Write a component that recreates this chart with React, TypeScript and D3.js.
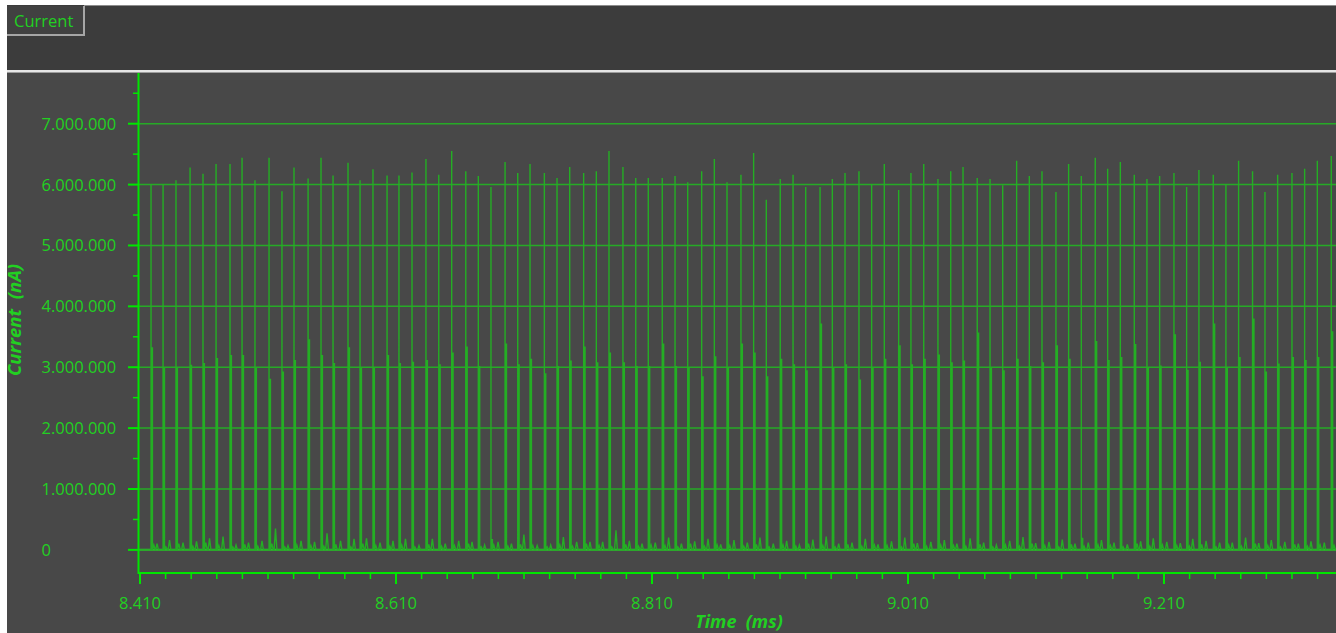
import React from 'react';
import * as d3 from 'd3';

// Time of each pulse (ms)
const spikeTimesMs = [
  8.4186, 8.4280, 8.4381, 8.4491, 8.4592, 8.4694, 8.4803, 8.4897, 8.4998, 8.5108,
  8.5209, 8.5303, 8.5413, 8.5514, 8.5608, 8.5725, 8.5819, 8.5920, 8.6030, 8.6123,
  8.6225, 8.6334, 8.6434, 8.6535, 8.6645, 8.6743, 8.6842, 8.6952, 8.7051, 8.7147,
  8.7259, 8.7358, 8.7457, 8.7566, 8.7665, 8.7764, 8.7873, 8.7973, 8.8071, 8.8180,
  8.8280, 8.8379, 8.8488, 8.8587, 8.8686, 8.8795, 8.8894, 8.8993, 8.9102, 8.9202,
  8.9301, 8.9413, 8.9509, 8.9608, 8.9717, 8.9816, 8.9915, 9.0027, 9.0123, 9.0223,
  9.0334, 9.0434, 9.0530, 9.0641, 9.0741, 9.0840, 9.0949, 9.1048, 9.1147, 9.1256,
  9.1355, 9.1454, 9.1563, 9.1660, 9.1759, 9.1868, 9.1967, 9.2066, 9.2178, 9.2277,
  9.2373, 9.2485, 9.2584, 9.2683, 9.2792, 9.2889, 9.2988, 9.3100, 9.3199, 9.3298,
  9.3407,
];

// Tall peak of each pulse (millions of nA)
const tallPeakMnA = [
  6.00, 6.00, 6.07, 6.28, 6.18, 6.34, 6.34, 6.44, 6.07, 6.44,
  5.89, 6.28, 6.10, 6.44, 6.15, 6.36, 6.07, 6.25, 6.15, 6.15,
  6.20, 6.42, 6.16, 6.55, 6.22, 6.14, 5.96, 6.37, 6.19, 6.34,
  6.19, 6.11, 6.29, 6.19, 6.22, 6.55, 6.29, 6.11, 6.11, 6.11,
  6.14, 6.04, 6.22, 6.42, 6.04, 6.16, 6.52, 5.75, 6.09, 6.16,
  5.96, 5.96, 6.09, 6.19, 6.22, 6.01, 6.34, 5.91, 6.19, 6.34,
  6.09, 6.22, 6.29, 6.11, 6.09, 5.99, 6.39, 6.14, 6.22, 5.88,
  6.34, 6.14, 6.44, 6.26, 6.37, 6.16, 6.09, 6.14, 6.19, 5.96,
  6.24, 6.16, 6.00, 6.39, 6.22, 5.88, 6.16, 6.19, 6.26, 6.39,
  6.47,
];

// Secondary (shorter) peak of each pulse (millions of nA)
const shortPeakMnA = [
  3.33, 3.00, 3.00, 3.04, 3.07, 3.15, 3.20, 3.20, 3.00, 2.81,
  2.93, 3.12, 3.46, 3.20, 3.07, 3.33, 3.00, 3.00, 3.20, 3.07,
  3.09, 3.12, 3.05, 3.24, 3.34, 3.02, 0.18, 3.39, 3.05, 3.14,
  2.90, 3.02, 3.11, 3.34, 3.08, 3.24, 3.08, 3.02, 3.02, 3.39,
  3.02, 3.00, 2.85, 3.18, 3.00, 3.39, 3.24, 2.85, 3.14, 3.05,
  2.95, 3.72, 3.00, 3.05, 2.80, 3.00, 3.14, 3.36, 3.05, 3.14,
  3.21, 3.08, 3.11, 3.57, 3.00, 2.95, 3.14, 3.02, 3.08, 3.36,
  3.14, 0.20, 3.43, 3.12, 3.17, 3.38, 3.00, 3.03, 3.54, 2.96,
  3.09, 3.72, 3.00, 3.17, 3.80, 2.93, 3.06, 3.17, 3.12, 3.17,
  3.59,
];

// Small baseline blip between pulses (millions of nA)
const midNoiseMnA = [
  0.10, 0.16, 0.12, 0.14, 0.19, 0.22, 0.08, 0.12, 0.15, 0.35,
  0.07, 0.15, 0.13, 0.27, 0.15, 0.18, 0.19, 0.12, 0.15, 0.18,
  0.07, 0.18, 0.10, 0.15, 0.13, 0.08, 0.13, 0.10, 0.25, 0.07,
  0.08, 0.21, 0.13, 0.13, 0.13, 0.32, 0.15, 0.10, 0.12, 0.20,
  0.10, 0.14, 0.18, 0.09, 0.16, 0.12, 0.20, 0.10, 0.15, 0.08,
  0.17, 0.22, 0.10, 0.12, 0.18, 0.09, 0.14, 0.20, 0.11, 0.13,
  0.16, 0.10, 0.19, 0.12, 0.08, 0.15, 0.21, 0.11, 0.13, 0.17,
  0.10, 0.12, 0.16, 0.12, 0.09, 0.14, 0.19, 0.13, 0.11, 0.18,
  0.15, 0.12, 0.12, 0.20, 0.11, 0.16, 0.13, 0.10, 0.14, 0.12,
  0.15,
];

// Small ringing right after each pulse (millions of nA)
const trailNoiseMnA = [
  0.08, 0.05, 0.10, 0.06, 0.12, 0.07, 0.05, 0.09, 0.06, 0.10,
  0.05, 0.08, 0.07, 0.06, 0.09, 0.05, 0.10, 0.07, 0.06, 0.08,
  0.05, 0.09, 0.06, 0.07, 0.10, 0.05, 0.08, 0.06, 0.09, 0.07,
  0.05, 0.08, 0.06, 0.10, 0.07, 0.05, 0.09, 0.06, 0.08, 0.07,
  0.05, 0.10, 0.06, 0.08, 0.07, 0.06, 0.09, 0.05, 0.08, 0.06,
  0.10, 0.07, 0.05, 0.09, 0.06, 0.08, 0.07, 0.05, 0.10, 0.06,
  0.08, 0.07, 0.06, 0.09, 0.05, 0.08, 0.06, 0.10, 0.07, 0.05,
  0.09, 0.06, 0.08, 0.07, 0.05, 0.10, 0.06, 0.08, 0.07, 0.06,
  0.09, 0.05, 0.08, 0.06, 0.10, 0.07, 0.05, 0.09, 0.06, 0.08,
  0.07,
];

const yMajorTicksNa = [0, 1000000, 2000000, 3000000, 4000000, 5000000, 6000000, 7000000];
const yMinorTicksNa = [500000, 1500000, 2500000, 3500000, 4500000, 5500000, 6500000, 7500000];
const xMajorTicksMs = [8.41, 8.61, 8.81, 9.01, 9.21];
const legendLabel = 'Current';
const yTitle = 'Current  (nA)';
const xTitle = 'Time  (ms)';

const X_DOMAIN: [number, number] = [8.4092, 9.3444];
const Y_DOMAIN: [number, number] = [-380000, 7800000];

const deLocale = d3.formatLocale({ decimal: ',', thousands: '.', grouping: [3], currency: ['', ''] });
const fmtY = deLocale.format(',d');
const fmtX = d3.format('.3f');

const FONT = '"Open Sans", "Noto Sans", sans-serif';
const GREEN_TEXT = '#22d022';
const AXIS_GREEN = '#00e600';
const GRID_GREEN = '#26aa26';
const TRACE_GREEN = '#24ae24';

export default function App() {
  const plotLeft = 139;
  const plotRight = 1336;
  const plotTop = 73;
  const plotBottom = 573;

  const x = d3.scaleLinear().domain(X_DOMAIN).range([plotLeft, plotRight]);
  const y = d3.scaleLinear().domain(Y_DOMAIN).range([plotBottom, 75]);

  const dt = 0.0011;
  const pts: [number, number][] = [[X_DOMAIN[0], 0]];
  spikeTimesMs.forEach((t, i) => {
    const tall = tallPeakMnA[i] * 1e6;
    const short = shortPeakMnA[i] * 1e6;
    const trail = (trailNoiseMnA[i] ?? 0.06) * 1e6;
    const noise = (midNoiseMnA[i] ?? 0.1) * 1e6;
    const next = spikeTimesMs[i + 1] ?? t + 0.0102;
    const mid = (t + next) / 2;
    pts.push(
      [t, 0], [t, tall], [t, 0],
      [t + dt, 0], [t + dt, short], [t + dt, 0],
      [t + 2 * dt, trail], [t + 3 * dt, 0],
      [mid - dt, 0], [mid, noise], [mid + dt, 0],
    );
  });
  pts.push([X_DOMAIN[1], 0]);

  const line = d3.line<[number, number]>().x((p) => x(p[0])).y((p) => y(p[1]));

  const xMinor = d3.range(0, 60).map((k) => 8.41 + k * 0.02).filter((v) => v <= X_DOMAIN[1]);

  return (
    <svg
      width={1336}
      height={633}
      style={{ position: 'absolute', left: 0, top: 0, display: 'block' }}
    >
      <defs>
        <clipPath id="plotClip">
          <rect x={plotLeft} y={plotTop} width={plotRight - plotLeft} height={plotBottom - plotTop} />
        </clipPath>
      </defs>
      {/* page background */}
      <rect x={0} y={0} width={1336} height={633} fill="#ffffff" />
      {/* header */}
      <rect x={7} y={5} width={1329} height={66} fill="#3c3c3c" />
      <line x1={84} y1={5.5} x2={1336} y2={5.5} stroke="#8c8c8c" strokeWidth={1} />
      {/* legend button */}
      <rect x={7} y={6} width={77} height={29} fill="#414141" />
      <line x1={84} y1={6} x2={84} y2={36} stroke="#a6a6a6" strokeWidth={2} />
      <line x1={7} y1={35} x2={85} y2={35} stroke="#a6a6a6" strokeWidth={2} />
      <text x={14} y={26.5} fill={GREEN_TEXT} fontFamily={FONT} fontSize={16.5}>
        {legendLabel}
      </text>
      {/* separator */}
      <rect x={7} y={70} width={1329} height={2.5} fill="#e6e6e6" />
      {/* plot background */}
      <rect x={7} y={72.5} width={1329} height={561} fill="#484848" />

      {/* gridlines */}
      {yMajorTicksNa.map((v) => (
        <line
          key={'g' + v}
          x1={plotLeft - 1}
          x2={plotRight}
          y1={y(v)}
          y2={y(v)}
          stroke={v === 0 ? '#2cc22c' : GRID_GREEN}
          strokeWidth={v === 0 ? 2 : 1.5}
        />
      ))}

      {/* trace */}
      <path
        d={line(pts) ?? ''}
        fill="none"
        stroke={TRACE_GREEN}
        strokeWidth={1.4}
        strokeLinejoin="miter"
        clipPath="url(#plotClip)"
      />

      {/* y axis */}
      <line x1={138.5} x2={138.5} y1={plotTop} y2={plotBottom + 1} stroke={AXIS_GREEN} strokeWidth={2} />
      {yMajorTicksNa.map((v) => (
        <line key={'yt' + v} x1={128} x2={138} y1={y(v)} y2={y(v)} stroke={AXIS_GREEN} strokeWidth={2} />
      ))}
      {yMinorTicksNa.map((v) => (
        <line key={'ym' + v} x1={133} x2={138} y1={y(v)} y2={y(v)} stroke={AXIS_GREEN} strokeWidth={1.5} />
      ))}
      {yMajorTicksNa.map((v) => (
        <text
          key={'yl' + v}
          x={41.5}
          y={y(v)}
          dy="0.36em"
          fill={GREEN_TEXT}
          fontFamily={FONT}
          fontSize={16.5}
        >
          {fmtY(v)}
        </text>
      ))}
      <text
        transform={`translate(21, ${320}) rotate(-90)`}
        textAnchor="middle"
        fill={GREEN_TEXT}
        fontFamily={FONT}
        fontSize={18.5}
        fontStyle="italic"
        fontWeight={700}
        style={{ whiteSpace: 'pre' }}
      >
        {yTitle}
      </text>

      {/* x axis */}
      <line x1={138} x2={plotRight} y1={plotBottom} y2={plotBottom} stroke={AXIS_GREEN} strokeWidth={2} />
      {xMinor.map((v, k) => (
        <line
          key={'xm' + k}
          x1={x(v)}
          x2={x(v)}
          y1={plotBottom}
          y2={plotBottom + 6}
          stroke={AXIS_GREEN}
          strokeWidth={1.5}
        />
      ))}
      {xMajorTicksMs.map((v) => (
        <line
          key={'xt' + v}
          x1={x(v)}
          x2={x(v)}
          y1={plotBottom}
          y2={plotBottom + 11}
          stroke={AXIS_GREEN}
          strokeWidth={2}
        />
      ))}
      {xMajorTicksMs.map((v) => (
        <text
          key={'xl' + v}
          x={x(v)}
          y={603}
          dy="0.36em"
          textAnchor="middle"
          fill={GREEN_TEXT}
          fontFamily={FONT}
          fontSize={16.5}
        >
          {fmtX(v)}
        </text>
      ))}
      <text
        x={739}
        y={628}
        textAnchor="middle"
        fill={GREEN_TEXT}
        fontFamily={FONT}
        fontSize={18}
        fontStyle="italic"
        fontWeight={700}
        style={{ whiteSpace: 'pre' }}
      >
        {xTitle}
      </text>
    </svg>
  );
}
